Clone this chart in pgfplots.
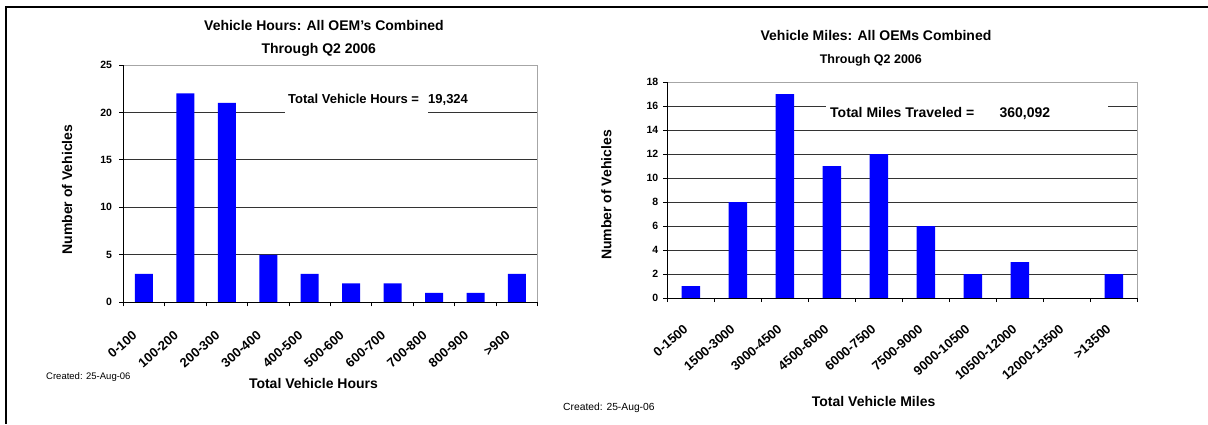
\documentclass[border=0pt]{standalone}
\usepackage{fontspec}
\setmainfont{Liberation Sans}
\usepackage{pgfplots}
\pgfplotsset{compat=1.18}
\newcommand{\fs}[1]{\fontsize{#1}{#1}\selectfont}
\pgfplotsset{
  hist/.style={
    scale only axis,
    ybar, bar shift=0pt,
    xmin=0.5, xmax=10.5, ymin=0,
    xtick={1,...,10},
    xtick pos=left, ytick pos=left,
    minor xtick={0.5,1.5,...,10.5},
    tick align=outside,
    major tick length=4pt, minor tick length=4pt,
    every tick/.style={black, line width=0.9pt},
    major x tick style={draw=none},
    ymajorgrids,
    major grid style={black!80, line width=0.9pt},
    axis line style={draw=none},
    clip=false,
    /pgf/number format/assume math mode=true,
  }
}
\begin{document}
\begin{tikzpicture}
% ---------------- left chart ----------------
\begin{axis}[hist,
  at={(123.2pt,121.7pt)}, anchor=south west,
  width=414.5pt, height=237.3pt,
  ymax=25, ytick={0,5,...,25}, bar width=18pt,
  yticklabel style={font=\bfseries\fs{10.5}, inner sep=0pt, xshift=-7pt},
  xticklabels={0-100,100-200,200-300,300-400,400-500,500-600,600-700,700-800,800-900,>900},
  xticklabel style={font=\bfseries\fs{13}, inner sep=0pt, anchor=east, xshift=-9pt, yshift=-27pt, rotate=41},
  xlabel={Total Vehicle Hours},
  every axis x label/.style={at={(rel axis cs:0.5,0)}, anchor=base, xshift=-17pt, yshift=-86.4pt, font=\bfseries\fs{14}},
  ylabel={Number of Vehicles},
  every axis y label/.style={at={(rel axis cs:0,0.5)}, anchor=center, xshift=-56pt, yshift=-6pt, rotate=90, font=\bfseries\fs{14}},
]
\addplot[fill=blue, draw=none] coordinates {(1,3) (2,22) (3,21) (4,5) (5,3) (6,2) (7,2) (8,1) (9,1) (10,3)};
\fill[white] (rel axis cs:0.3903,0.7877) rectangle (rel axis cs:0.7353,0.903);
\draw[gray!70, line width=1pt] (rel axis cs:0,1) -- (rel axis cs:1,1) -- (rel axis cs:1,0);
\draw[black, line width=1pt] (rel axis cs:0,1) -- (rel axis cs:0,0) -- (rel axis cs:1,0);
\node[anchor=base, font=\bfseries\fs{14}, inner sep=0pt] at (rel axis cs:0.4844,1.1433) {Vehicle Hours: All OEM\char"27 s Combined};
\node[anchor=base, font=\bfseries\fs{14}, inner sep=0pt] at (rel axis cs:0.4719,1.0476) {Through Q2 2006};
\node[anchor=base west, font=\bfseries\fs{13}, inner sep=0pt] at (rel axis cs:0.3976,0.8369) {Total Vehicle Hours =};
\node[anchor=base west, font=\bfseries\fs{13}, inner sep=0pt] at (rel axis cs:0.7353,0.8369) {19,324};
\node[anchor=base west, font=\fs{9.5}, inner sep=0pt] at (rel axis cs:-0.1862,-0.3274) {Created: 25-Aug-06};
\end{axis}
% ---------------- right chart ----------------
\begin{axis}[hist,
  at={(667.4pt,126pt)}, anchor=south west,
  width=470pt, height=216pt,
  ymax=18, ytick={0,2,...,18}, bar width=18.5pt,
  yticklabel style={font=\bfseries\fs{10.5}, inner sep=0pt, xshift=-5pt},
  xticklabels={0-1500,1500-3000,3000-4500,4500-6000,6000-7500,7500-9000,9000-10500,10500-12000,12000-13500,>13500},
  xticklabel style={font=\bfseries\fs{13}, inner sep=0pt, anchor=east, xshift=-5pt, yshift=-25pt, rotate=41},
  xlabel={Total Vehicle Miles},
  every axis x label/.style={at={(rel axis cs:0.5,0)}, anchor=base, xshift=-28.8pt, yshift=-108.3pt, font=\bfseries\fs{14}},
  ylabel={Number of Vehicles},
  every axis y label/.style={at={(rel axis cs:0,0.5)}, anchor=center, xshift=-61pt, yshift=-5pt, rotate=90, font=\bfseries\fs{14}},
]
\addplot[fill=blue, draw=none] coordinates {(1,1) (2,8) (3,17) (4,11) (5,12) (6,6) (7,2) (8,3) (9,0) (10,2)};
\fill[white] (rel axis cs:0.3374,0.8056) rectangle (rel axis cs:0.9374,0.9167);
\draw[gray!70, line width=1pt] (rel axis cs:0,1) -- (rel axis cs:1,1) -- (rel axis cs:1,0);
\draw[black, line width=1pt] (rel axis cs:0,1) -- (rel axis cs:0,0) -- (rel axis cs:1,0);
\node[anchor=base, font=\bfseries\fs{14}, inner sep=0pt] at (rel axis cs:0.4438,1.1912) {Vehicle Miles: All OEMs Combined};
\node[anchor=base, font=\bfseries\fs{12.5}, inner sep=0pt] at (rel axis cs:0.4328,1.0866) {Through Q2 2006};
\node[anchor=base west, font=\bfseries\fs{14}, inner sep=0pt] at (rel axis cs:0.346,0.8366) {Total Miles Traveled =};
\node[anchor=base west, font=\bfseries\fs{14}, inner sep=0pt] at (rel axis cs:0.7062,0.8366) {360,092};
\node[anchor=base west, font=\fs{10.3}, inner sep=0pt] at (rel axis cs:-0.2221,-0.52) {Created: 25-Aug-06};
\end{axis}
% ---------------- outer frame ----------------
\draw[black, line width=2.2pt] (6pt,0.5pt) -- (6pt,417pt) -- (1208pt,417pt);
\pgfresetboundingbox
\useasboundingbox (0pt,0pt) rectangle (1208pt,424pt);
\end{tikzpicture}
\end{document}
